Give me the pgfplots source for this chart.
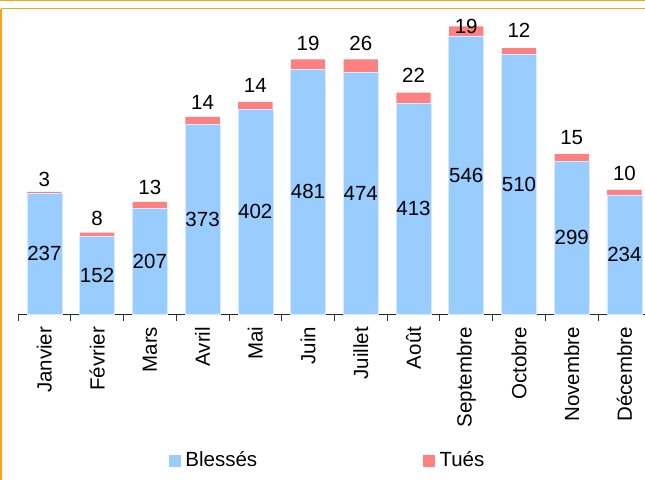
\documentclass[border=0pt]{standalone}
\usepackage{pgfplots}
\pgfplotsset{compat=1.18}
\usepackage{pgfplotstable}
\usepackage{fontspec}
\setmainfont{Liberation Sans}
\definecolor{bleu}{HTML}{99CCFF}
\definecolor{rouge}{HTML}{FF8080}
\definecolor{cadre}{HTML}{FFA31A}
\newcommand{\lbl}{\fontsize{20.5bp}{24bp}\selectfont}
\pgfplotsset{/pgf/number format/assume math mode=true}

\pgfplotstableread{
x b t lt
0 237 3 264.1
1 152 8 187.2
2 207 13 248.4
3 373 14 416.3
4 402 14 449.7
5 481 19 530.8
6 474 26 530.8
7 413 22 469.4
8 546 19 564.6
9 510 12 557.1
10 299 15 346.6
11 234 10 276.9
}\data

\begin{document}
\begin{tikzpicture}
\path[use as bounding box] (0,0) rectangle (645bp,480bp);
\begin{axis}[
  at={(18bp,166bp)}, anchor=south west,
  scale only axis, width=627bp, height=305.5bp,
  xmin=-0.5, xmax=11.39, ymin=0, ymax=600,
  axis x line*=bottom, axis y line=none,
  x axis line style={-, black!85, line width=0.8bp},
  xtick={0,...,11},
  xticklabels={Janvier,Février,Mars,Avril,Mai,Juin,Juillet,Août,Septembre,Octobre,Novembre,Décembre},
  major tick length=0pt,
  minor xtick={-0.5,0.5,...,10.5},
  minor tick length=7bp,
  tick align=outside,
  minor x tick style={black!80, line width=0.8bp},
  ytick=\empty,
  xticklabel style={font=\lbl, rotate=90, anchor=east, inner sep=0pt},
  xticklabel shift=12.7bp,
  clip=false,
  legend columns=2,
  legend style={at={(axis description cs:0.2408,-0.504)}, anchor=south west,
    draw=none, fill=none, inner sep=0pt, outer sep=0pt, font=\lbl,
    nodes={inner sep=0pt, anchor=base west},
    /tikz/every odd column/.append style={column sep=5bp},
    /tikz/every even column/.append style={column sep=166bp}},
]
\addplot[ybar, bar width=34.4bp, fill=rouge, draw=none, forget plot]
  table[x=x, y expr=\thisrow{b}+\thisrow{t}] {\data};
\addplot[ybar, bar width=35bp, fill=bleu, draw=white!60!bleu, line width=0.6bp, forget plot]
  table[x=x, y=b] {\data};
\addplot[draw=none, mark=none, forget plot, nodes near coords, nodes near coords align=center,
  point meta=explicit,
  every node near coord/.style={font=\lbl, inner sep=0pt, anchor=center, text=black}]
  table[x=x, y expr=\thisrow{b}/2, meta=b] {\data};
\addplot[draw=none, mark=none, forget plot, nodes near coords, nodes near coords align=center,
  point meta=explicit,
  every node near coord/.style={font=\lbl, inner sep=0pt, anchor=center, text=black}]
  table[x=x, y=lt, meta=t] {\data};
\addlegendimage{legend image code/.code={\fill[bleu] (0bp,0bp) rectangle (11bp,11bp);}}
\addlegendentry{Blessés}
\addlegendimage{legend image code/.code={\fill[rouge] (0bp,0bp) rectangle (11bp,11bp);}}
\addlegendentry{Tués}
\end{axis}
\draw[cadre, line width=1.5bp] (0,479.6bp) -- (645bp,479.6bp);
\draw[cadre, line width=1.5bp] (1.2bp,471.3bp) -- (645bp,471.3bp);
\draw[cadre, line width=1.5bp] (1.2bp,471.3bp) -- (1.2bp,0);
\end{tikzpicture}
\end{document}
